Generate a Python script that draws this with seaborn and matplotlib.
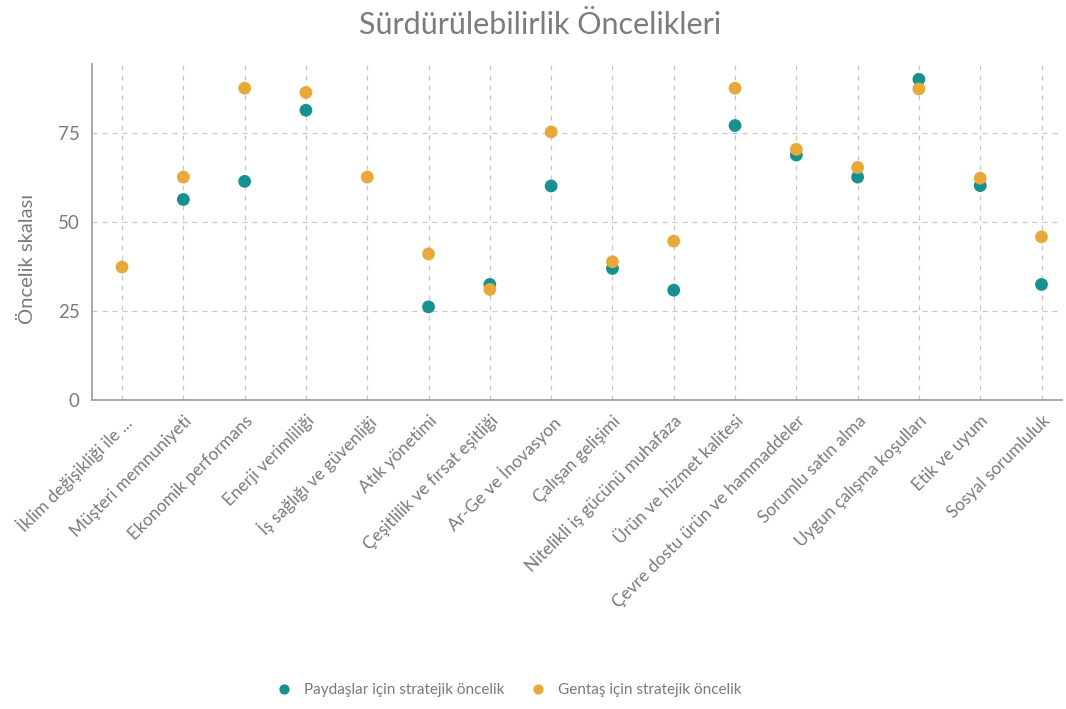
import numpy as np
import pandas as pd
import matplotlib
matplotlib.use("Agg")
import matplotlib.pyplot as plt
import seaborn as sns

categories = [
    "İklim değişikliği ile ...",
    "Müşteri memnuniyeti",
    "Ekonomik performans",
    "Enerji verimliliği",
    "İş sağlığı ve güvenliği",
    "Atık yönetimi",
    "Çeşitlilik ve fırsat eşitliği",
    "Ar-Ge ve İnovasyon",
    "Çalışan gelişimi",
    "Nitelikli iş gücünü muhafaza",
    "Ürün ve hizmet kalitesi",
    "Çevre dostu ürün ve hammaddeler",
    "Sorumlu satın alma",
    "Uygun çalışma koşulları",
    "Etik ve uyum",
    "Sosyal sorumluluk",
]
paydaslar = [np.nan, 56.4, 61.5, 81.5, np.nan, 26.2, 32.5, 60.2,
             37.0, 30.9, 77.2, 68.9, 62.7, 90.2, 60.3, 32.5]
gentas = [37.4, 62.7, 87.7, 86.5, 62.7, 41.1, 31.1, 75.4,
          38.9, 44.7, 87.7, 70.5, 65.4, 87.5, 62.4, 45.9]
series_names = ["Paydaşlar için stratejik öncelik", "Gentaş için stratejik öncelik"]
colors = ["#17918f", "#e9a93a"]

df = pd.concat([
    pd.DataFrame({"kategori": categories, "deger": paydaslar, "seri": series_names[0]}),
    pd.DataFrame({"kategori": categories, "deger": gentas, "seri": series_names[1]}),
], ignore_index=True)
df["x"] = df["kategori"].map({c: i for i, c in enumerate(categories)})

sns.set_style("white")
plt.rcParams["font.family"] = ["Lato", "DejaVu Sans"]
text_col = "#7a7a7a"

fig = plt.figure(figsize=(10.66, 7.09), dpi=100)
ax = fig.add_axes([0.0863, 0.4358, 0.9097, 0.4739])

sns.scatterplot(data=df, x="x", y="deger", hue="seri", palette=colors,
                s=85, edgecolor="none", ax=ax, zorder=3, legend=True)

ax.set_xlim(-0.49, 15.33)
ax.set_ylim(0, 94.5)
ax.set_xticks(range(len(categories)))
ax.set_xticklabels(categories, rotation=45, ha="right", rotation_mode="anchor",
                   fontsize=12.5, color=text_col)
ax.set_yticks([0, 25, 50, 75])
ax.tick_params(axis="y", labelsize=13.5, colors=text_col, length=0, pad=9)
ax.tick_params(axis="x", length=0, pad=9)
ax.set_xlabel("")
ax.set_ylabel("Öncelik skalası", fontsize=14.5, color=text_col)
ax.yaxis.set_label_coords(-0.058, 0.42)

ax.grid(True, linestyle=(0, (4, 4)), color="#c8c8c8", linewidth=0.9)
ax.set_axisbelow(True)
for side in ["top", "right"]:
    ax.spines[side].set_visible(False)
for side in ["left", "bottom"]:
    ax.spines[side].set_color("#9a9a9a")
    ax.spines[side].set_linewidth(1.2)

fig.suptitle("Sürdürülebilirlik Öncelikleri", x=0.507, y=0.985,
             fontsize=22, color="#7c7c7c")

handles, labels = ax.get_legend_handles_labels()
ax.get_legend().remove()
fig.legend(handles, labels, loc="center", bbox_to_anchor=(0.474, 0.027), ncol=2,
           frameon=False, fontsize=11, labelcolor=text_col, handletextpad=0.3,
           columnspacing=1.2, markerscale=0.8)

fig.savefig("out.png", dpi=100)
